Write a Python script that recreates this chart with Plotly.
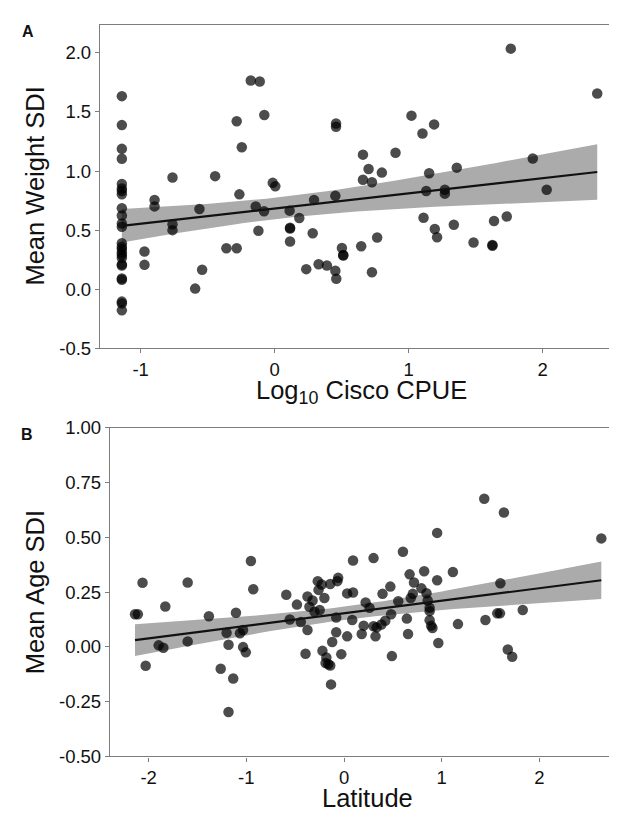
import numpy as np
import plotly.graph_objects as go

# ---------------- Panel A data: Log10 Cisco CPUE vs Mean Weight SDI ----------------
cpue_x = [
    -1.14, -1.14, -1.14, -1.14, -1.14, -1.14, -1.14, -1.14, -1.14, -1.14,
    -1.14, -1.14, -1.14, -1.14, -1.14, -1.14, -1.14, -1.14, -1.14, -1.14,
    -1.14, -1.14, -1.14, -1.14, -1.14,
    -0.896, -0.896, -0.971, -0.971, -0.762, -0.762, -0.762, -0.593, -0.561, -0.541,
    -0.444, -0.36, -0.283, -0.283, -0.263, -0.245, -0.178, -0.111, -0.077, -0.141,
    -0.121, -0.079, -0.014, 0.005, 0.112, 0.115, 0.115, 0.115, 0.184, 0.294,
    0.284, 0.236, 0.328, 0.39, 0.453, 0.453, 0.46, 0.458, 0.458, 0.502,
    0.512, 0.512, 0.646, 0.659, 0.659, 0.701, 0.726, 0.726, 0.765, 0.80,
    0.902, 1.021, 1.103, 1.19, 1.111, 1.131, 1.153, 1.195, 1.212, 1.27,
    1.27, 1.337, 1.359, 1.484, 1.625, 1.625, 1.637, 1.732, 1.762, 1.926,
    2.03, 2.407,
]
weight_sdi = [
    1.634, 1.389, 1.188, 1.104, 0.891, 0.853, 0.831, 0.803, 0.685, 0.624,
    0.556, 0.528, 0.39, 0.36, 0.34, 0.31, 0.29, 0.267, 0.21, 0.20,
    0.09, 0.08, -0.105, -0.12, -0.179,
    0.756, 0.701, 0.319, 0.206, 0.946, 0.55, 0.50, 0.005, 0.679, 0.165,
    0.957, 0.347, 0.347, 1.422, 0.803, 1.202, 1.766, 1.758, 1.474, 0.701,
    0.495, 0.66, 0.90, 0.872, 0.665, 0.514, 0.52, 0.404, 0.602, 0.756,
    0.473, 0.170, 0.211, 0.20, 0.79, 0.157, 0.088, 1.403, 1.375, 0.349,
    0.286, 0.29, 0.363, 1.139, 0.927, 1.018, 0.905, 0.143, 0.437, 0.987,
    1.155, 1.469, 1.318, 1.395, 0.605, 0.831, 0.982, 0.509, 0.44, 0.842,
    0.809, 0.545, 1.029, 0.396, 0.368, 0.375, 0.578, 0.616, 2.036, 1.106,
    0.842, 1.656,
]

# ---------------- Panel B data: Latitude vs Mean Age SDI ----------------
lat_x = [
    -2.139, -2.11, -2.062, -2.03, -1.897, -1.849, -1.829, -1.60, -1.60, -1.383,
    -1.262, -1.202, -1.182, -1.182, -1.134, -1.106, -1.065, -1.033, -1.033, -1.005,
    -0.953, -0.929, -0.591, -0.555, -0.482, -0.442, -0.394, -0.374, -0.374, -0.354,
    -0.322, -0.302, -0.269, -0.261, -0.249, -0.229, -0.221, -0.201, -0.181, -0.161,
    -0.189, -0.141, -0.141, -0.133, -0.121, -0.08, -0.08, -0.068, -0.06, -0.028,
    0.032, 0.032, 0.084, 0.092, 0.092, 0.181, 0.201, 0.221, 0.261, 0.302,
    0.302, 0.322, 0.334, 0.382, 0.394, 0.422, 0.474, 0.482, 0.490, 0.555,
    0.603, 0.643, 0.655, 0.671, 0.683, 0.704, 0.716, 0.792, 0.820, 0.844,
    0.856, 0.876, 0.876, 0.876, 0.892, 0.905, 0.953, 0.953, 0.965, 1.114,
    1.166, 1.435, 1.447, 1.568, 1.596, 1.60, 1.636, 1.676, 1.721, 1.829,
    2.633,
]
age_sdi = [
    0.149, 0.149, 0.293, -0.086, 0.007, -0.004, 0.184, 0.294, 0.025, 0.140,
    -0.10, 0.064, 0.010, -0.297, -0.144, 0.156, 0.062, 0.077, -0.001, -0.025,
    0.392, 0.263, 0.238, 0.125, 0.193, 0.113, -0.031, 0.230, 0.077, 0.183,
    0.212, 0.160, 0.30, 0.260, 0.168, 0.285, -0.018, 0.223, -0.048, -0.079,
    -0.074, 0.287, -0.085, -0.171, 0.022, 0.134, 0.067, 0.30, 0.315, -0.033,
    0.244, 0.048, 0.123, 0.394, 0.248, 0.059, 0.097, 0.203, 0.178, 0.405,
    0.094, 0.048, 0.089, 0.102, 0.242, 0.119, 0.275, 0.149, -0.042, 0.208,
    0.434, 0.129, 0.059, 0.331, 0.223, 0.242, 0.294, 0.267, 0.345, 0.245,
    0.212, 0.178, 0.163, 0.122, 0.097, 0.086, 0.520, 0.304, 0.018, 0.342,
    0.104, 0.676, 0.123, 0.153, 0.153, 0.290, 0.613, -0.012, -0.045, 0.168,
    0.495,
]

# ---------------- Tick labels ----------------
xa_ticks = [-1, 0, 1, 2]
xa_text = ["-1", "0", "1", "2"]
ya_ticks = [-0.5, 0.0, 0.5, 1.0, 1.5, 2.0]
ya_text = ["-0.5", "0.0", "0.5", "1.0", "1.5", "2.0"]
xb_ticks = [-2, -1, 0, 1, 2]
xb_text = ["-2", "-1", "0", "1", "2"]
yb_ticks = [-0.5, -0.25, 0.0, 0.25, 0.5, 0.75, 1.0]
yb_text = ["-0.50", "-0.25", "0.00", "0.25", "0.50", "0.75", "1.00"]

T_CRIT = 1.984  # 95% t quantile, df ~ 98


def lm_fit(x, y, n_grid=80):
    x = np.asarray(x, float)
    y = np.asarray(y, float)
    n = len(x)
    b1, b0 = np.polyfit(x, y, 1)
    resid = y - (b0 + b1 * x)
    s = np.sqrt(np.sum(resid ** 2) / (n - 2))
    xm = x.mean()
    sxx = np.sum((x - xm) ** 2)
    g = np.linspace(x.min(), x.max(), n_grid)
    fit = b0 + b1 * g
    se = s * np.sqrt(1.0 / n + (g - xm) ** 2 / sxx)
    return g, fit, fit - T_CRIT * se, fit + T_CRIT * se


FONT = "Liberation Sans, Arial, Helvetica, sans-serif"
AXIS_COL = "#7d7d7d"
PT_COL = "rgba(0,0,0,0.7)"
BAND_COL = "#ababab"

fig = go.Figure()


def add_panel(x, y, xa, ya):
    g, fit, lo, hi = lm_fit(x, y)
    fig.add_trace(go.Scatter(
        x=np.concatenate([g, g[::-1]]), y=np.concatenate([hi, lo[::-1]]),
        fill="toself", fillcolor=BAND_COL, line=dict(width=0),
        mode="lines", hoverinfo="skip", showlegend=False, xaxis=xa, yaxis=ya))
    fig.add_trace(go.Scatter(
        x=x, y=y, mode="markers",
        marker=dict(size=10.5, color=PT_COL, line=dict(width=0)),
        showlegend=False, xaxis=xa, yaxis=ya))
    fig.add_trace(go.Scatter(
        x=g, y=fit, mode="lines", line=dict(color="#111111", width=2.2),
        hoverinfo="skip", showlegend=False, xaxis=xa, yaxis=ya))


add_panel(cpue_x, weight_sdi, "x", "y")
add_panel(lat_x, age_sdi, "x2", "y2")

W, H = 617, 815
axis_common = dict(
    showline=True, mirror=True, linecolor=AXIS_COL, linewidth=1.3,
    ticks="outside", ticklen=4, tickwidth=1, tickcolor=AXIS_COL,
    showgrid=False, zeroline=False,
    tickfont=dict(family=FONT, size=18.5, color="#111111"),
    tickmode="array",
)

fig.update_layout(
    width=W, height=H,
    margin=dict(l=0, r=0, t=0, b=0),
    paper_bgcolor="white", plot_bgcolor="white",
    showlegend=False,
    xaxis=dict(axis_common, domain=[92 / W, 615.5 / W], range=[-1.303, 2.603],
               tickvals=xa_ticks, ticktext=xa_text, anchor="y"),
    yaxis=dict(axis_common, domain=[1 - 338 / H, 1 - 5.7 / H], range=[-0.5, 2.24],
               tickvals=ya_ticks, ticktext=ya_text, anchor="x"),
    xaxis2=dict(axis_common, domain=[102 / W, 615.5 / W], range=[-2.395, 2.86],
                tickvals=xb_ticks, ticktext=xb_text, anchor="y2"),
    yaxis2=dict(axis_common, domain=[1 - 757 / H, 1 - 419.5 / H], range=[-0.5, 1.0],
                tickvals=yb_ticks, ticktext=yb_text, anchor="x2"),
)

title_font = dict(family=FONT, size=25.5, color="#111111")
ann = [
    dict(text="Log<sub>10</sub> Cisco CPUE", x=353 / W, y=1 - 383 / H,
         xanchor="center", yanchor="middle", font=title_font),
    dict(text="Mean Weight SDI", x=27 / W, y=1 - 172 / H, textangle=-90,
         xanchor="center", yanchor="middle", font=title_font),
    dict(text="Latitude", x=360 / W, y=1 - 800 / H,
         xanchor="center", yanchor="middle", font=title_font),
    dict(text="Mean Age SDI", x=27 / W, y=1 - 588.5 / H, textangle=-90,
         xanchor="center", yanchor="middle", font=title_font),
    dict(text="<b>A</b>", x=20 / W, y=1 - 13 / H, xanchor="center", yanchor="middle",
         font=dict(family=FONT, size=16, color="#111111")),
    dict(text="<b>B</b>", x=19.5 / W, y=1 - 426 / H, xanchor="center", yanchor="middle",
         font=dict(family=FONT, size=16, color="#111111")),
]
for a in ann:
    a.update(xref="paper", yref="paper", showarrow=False)
fig.update_layout(annotations=ann)

fig.write_html("out.html")
